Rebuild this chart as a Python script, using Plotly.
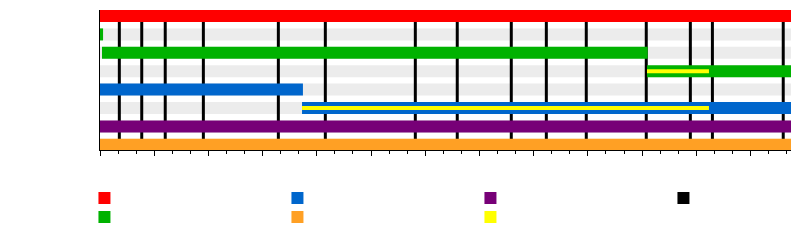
import plotly.graph_objects as go

# ---- data -------------------------------------------------------------
AXIS_START = 1985.0
AXIS_END = 2023.24

rows = [0, 1, 2, 3, 4, 5, 6, 7]

# membership bars (row, start, end, colour key)
bar_rows   = [0, 1, 2, 3, 4, 5, 6, 7]
bar_starts = [1985.0, 1985.0, 1985.11, 2015.27, 1985.0, 1996.18, 1985.0, 1985.0]
bar_ends   = [2023.24, 1985.17, 2015.31, 2023.24, 1996.23, 2023.24, 2023.24, 2023.24]
bar_keys   = ["red", "green", "green", "green", "blue", "blue", "purple", "orange"]

# secondary role (thin inner line)
inner_rows   = [3, 5]
inner_starts = [2015.27, 1996.18]
inner_ends   = [2018.70, 2018.70]
inner_keys   = ["yellow", "yellow"]

# event lines (e.g. releases)
event_years = [1986.07, 1987.31, 1988.61, 1990.72, 1994.87, 1997.47, 2002.45,
               2004.77, 2007.76, 2009.70, 2011.91, 2015.23, 2017.67, 2018.89,
               2022.81]

colors = {
    "red": "#ff0000",
    "green": "#00b200",
    "blue": "#0066cc",
    "orange": "#ffa024",
    "purple": "#770077",
    "yellow": "#ffff00",
    "black": "#000000",
}
legend_order = ["red", "blue", "purple", "black", "green", "orange", "yellow"]
legend_names = ["", "", "", "", "", "", ""]

BAR_W = 0.652
INNER_W = 0.217
STRIPE = "#ececec"
Y_TOP = -0.326
Y_BOTTOM = 7.283

fig = go.Figure()

# background stripes for every row and event lines (below the bars)
shapes = []
for r in rows:
    shapes.append(dict(type="rect", xref="x", yref="y", layer="below",
                       x0=AXIS_START, x1=AXIS_END,
                       y0=r - BAR_W / 2, y1=r + BAR_W / 2,
                       fillcolor=STRIPE, line=dict(width=0)))
for e in event_years:
    shapes.append(dict(type="line", xref="x", yref="y", layer="below",
                       x0=e, x1=e, y0=Y_TOP, y1=Y_BOTTOM,
                       line=dict(color="black", width=3)))

# main bars
for key in ["red", "green", "blue", "orange", "purple"]:
    idx = [i for i, k in enumerate(bar_keys) if k == key]
    if not idx:
        continue
    fig.add_trace(go.Bar(
        orientation="h",
        y=[bar_rows[i] for i in idx],
        base=[bar_starts[i] for i in idx],
        x=[bar_ends[i] - bar_starts[i] for i in idx],
        width=BAR_W,
        marker=dict(color=colors[key], line=dict(width=0)),
        showlegend=False, hoverinfo="skip",
    ))

# inner lines
fig.add_trace(go.Bar(
    orientation="h",
    y=inner_rows,
    base=inner_starts,
    x=[e - s for s, e in zip(inner_starts, inner_ends)],
    width=INNER_W,
    marker=dict(color=[colors[k] for k in inner_keys], line=dict(width=0)),
    showlegend=False, hoverinfo="skip",
))

# legend entries
for key, name in zip(legend_order, legend_names):
    fig.add_trace(go.Bar(
        orientation="h", x=[None], y=[None], name=name,
        marker=dict(color=colors[key], line=dict(width=0)),
        showlegend=True,
    ))

fig.update_layout(
    width=800, height=240,
    margin=dict(l=100, r=9, t=10, b=90, autoexpand=False),
    paper_bgcolor="white", plot_bgcolor="white",
    barmode="overlay",
    shapes=shapes,
    showlegend=True,
    legend=dict(orientation="h", x=-0.0225, xanchor="left", y=-0.24, yanchor="top",
                entrywidth=148, entrywidthmode="pixels",
                font=dict(family="DejaVu Sans", size=10, color="black"),
                traceorder="normal", itemclick=False),
    xaxis=dict(range=[AXIS_START, AXIS_END], showgrid=False, zeroline=False,
               showline=True, linecolor="black", linewidth=1,
               ticks="outside", ticklen=5, tickwidth=1, tickcolor="black",
               tick0=AXIS_START, dtick=3, showticklabels=False,
               minor=dict(ticks="outside", ticklen=3, tickwidth=1,
                          tickcolor="black", tick0=AXIS_START, dtick=1,
                          showgrid=False)),
    yaxis=dict(range=[Y_BOTTOM, Y_TOP], showgrid=False, zeroline=False,
               showline=True, linecolor="black", linewidth=1,
               showticklabels=False, ticks=""),
)

fig.write_html("out.html")
